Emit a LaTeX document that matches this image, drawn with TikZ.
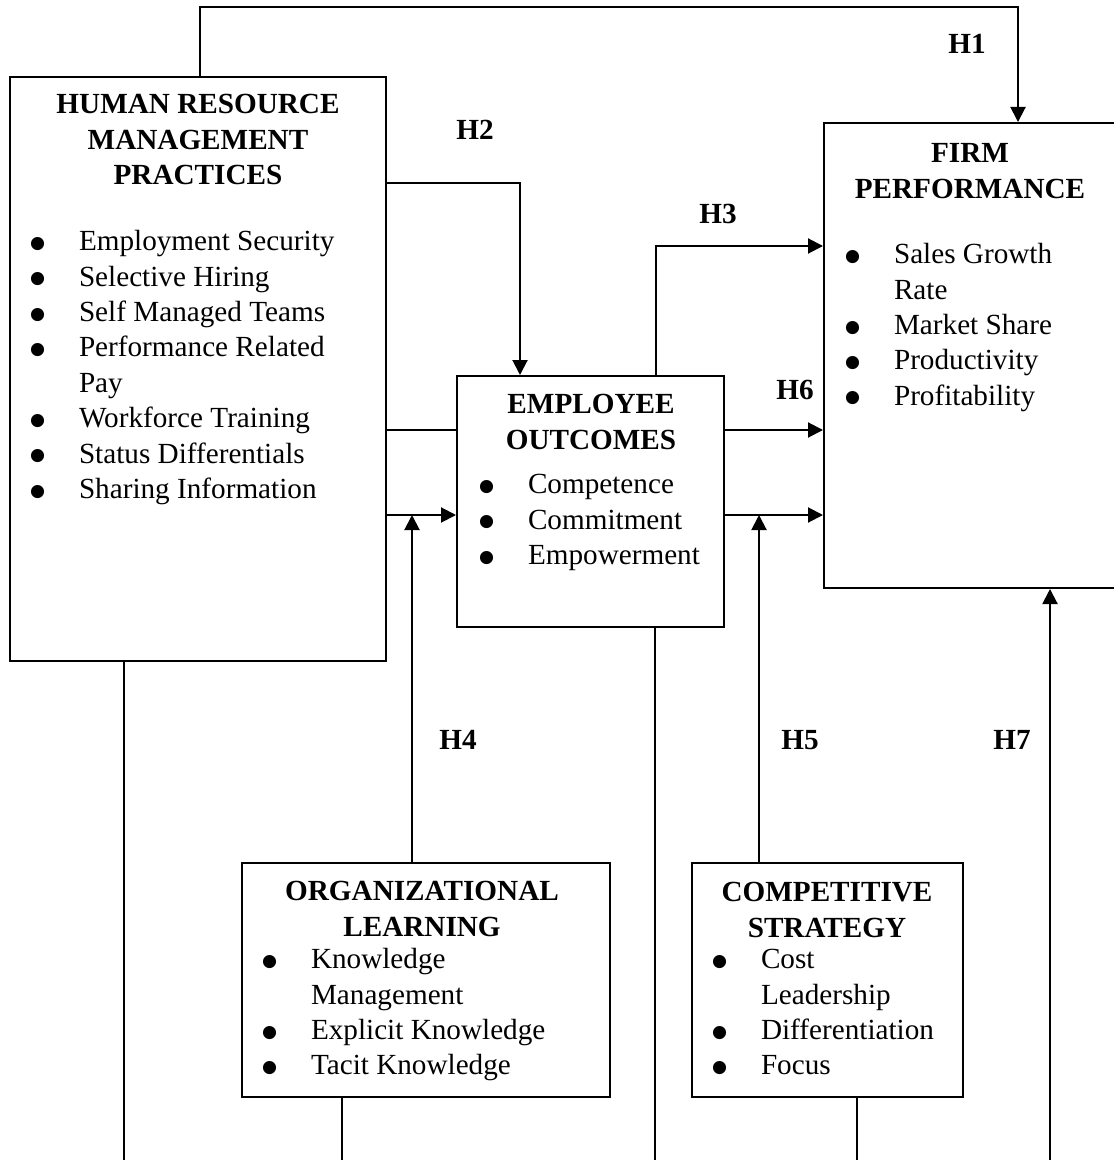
\documentclass[tikz,border=0pt]{standalone}
\usepackage{fontspec}
\setmainfont{Liberation Serif}
\newfontfamily\dotfont{DejaVu Sans}
\usetikzlibrary{arrows.meta}

\tikzset{
  box/.style={draw, line width=1pt, inner sep=0pt},
  head/.style={anchor=north, inner sep=0pt, font=\fontsize{14.6}{17.7}\selectfont\bfseries},
  items/.style={anchor=north west, inner sep=0pt, font=\fontsize{14.6}{17.7}\selectfont},
  hyp/.style={inner sep=0pt, font=\fontsize{14.6}{17.7}\selectfont\bfseries}
}
\newcommand{\itm}{\hspace*{-1.5pt}\raisebox{1.2pt}{\dotfont\fontsize{8.6}{9}\selectfont ●} &}

\begin{document}
\begin{tikzpicture}[x=0.5pt, y=-0.5pt, line width=1pt, >={Triangle[length=7.5pt,width=7.5pt]}]
\useasboundingbox (0,0) rectangle (1113,1160);

% boxes
\node [box, minimum width=188pt, minimum height=292pt] (hrm) at (198,369) {};
\node [box, minimum width=133.5pt, minimum height=125.5pt] (eo) at (590.5,501.5) {};
\node [box, minimum width=146pt, minimum height=232.5pt] (firm) at (970,355.5) {};
\node [box, minimum width=184pt, minimum height=117pt] (ol) at (426,980) {};
\node [box, minimum width=135.5pt, minimum height=117pt] (cs) at (827.5,980) {};

% titles and lists
\node [head] (hrmt) at (198,88) {\begin{tabular}{@{}c@{}}HUMAN RESOURCE\\MANAGEMENT\\PRACTICES\end{tabular}};
\node [items] (hrml) at (32,225) {\begin{tabular}{@{}p{23pt}@{}l@{}}
\itm Employment Security\\ \itm Selective Hiring\\ \itm Self Managed Teams\\
\itm Performance Related\\ & Pay\\ \itm Workforce Training\\ \itm Status Differentials\\
\itm Sharing Information\end{tabular}};

\node [head] (eot) at (591,388) {\begin{tabular}{@{}c@{}}EMPLOYEE\\OUTCOMES\end{tabular}};
\node [items] (eol) at (481,468) {\begin{tabular}{@{}p{23pt}@{}l@{}}
\itm Competence\\ \itm Commitment\\ \itm Empowerment\end{tabular}};

\node [head] (firmt) at (970,137) {\begin{tabular}{@{}c@{}}FIRM\\PERFORMANCE\end{tabular}};
\node [items] (firml) at (847,238) {\begin{tabular}{@{}p{23pt}@{}l@{}}
\itm Sales Growth\\ & Rate\\ \itm Market Share\\ \itm Productivity\\ \itm Profitability\end{tabular}};

\node [head] (olt) at (422,875) {\begin{tabular}{@{}c@{}}ORGANIZATIONAL\\LEARNING\end{tabular}};
\node [items] (oll) at (264,943) {\begin{tabular}{@{}p{23pt}@{}l@{}}
\itm Knowledge\\ & Management\\ \itm Explicit Knowledge\\ \itm Tacit Knowledge\end{tabular}};

\node [head] (cst) at (827,876) {\begin{tabular}{@{}c@{}}COMPETITIVE\\STRATEGY\end{tabular}};
\node [items] (csl) at (714,943) {\begin{tabular}{@{}p{23pt}@{}l@{}}
\itm Cost\\ & Leadership\\ \itm Differentiation\\ \itm Focus\end{tabular}};

% hypothesis labels
\node [hyp] (h1) at (967,44) {H1};
\node [hyp] (h2) at (475,130) {H2};
\node [hyp] (h3) at (718,214) {H3};
\node [hyp] (h4) at (458,740) {H4};
\node [hyp] (h5) at (800,740) {H5};
\node [hyp] (h6) at (795,390) {H6};
\node [hyp] (h7) at (1012,740) {H7};

% bends and loose ends
\coordinate (h1s) at (200,7);
\coordinate (h1e) at (1018,7);
\coordinate (h2c) at (520,183);
\coordinate (h3c) at (656,246);
\coordinate (up) at (0,430);
\coordinate (lo) at (0,515);
\coordinate (h4c) at (412,515);
\coordinate (h5c) at (759,515);
\coordinate (h7s) at (1050,1160);
\coordinate (b1) at (124,1160);
\coordinate (b2) at (342,1160);
\coordinate (b3) at (655,1160);
\coordinate (b4) at (857,1160);

\draw [->] (hrm.north -| h1s) -- (h1s) -- (h1e) -- (firm.north -| h1e);
\draw [->] (hrm.east |- h2c) -- (h2c) -- (eo.north -| h2c);
\draw [->] (eo.north -| h3c) -- (h3c) -- (firm.west |- h3c);
\draw (hrm.east |- up) -- (eo.west |- up);
\draw [->] (hrm.east |- lo) -- (eo.west |- lo);
\draw [->] (eo.east |- up) -- (firm.west |- up);
\draw [->] (eo.east |- lo) -- (firm.west |- lo);
\draw [->] (ol.north -| h4c) -- (h4c);
\draw [->] (cs.north -| h5c) -- (h5c);
\draw [->] (h7s) -- (firm.south -| h7s);

% lines to the bottom edge
\draw (hrm.south -| b1) -- (b1);
\draw (ol.south -| b2) -- (b2);
\draw (eo.south -| b3) -- (b3);
\draw (cs.south -| b4) -- (b4);

\end{tikzpicture}
\end{document}
